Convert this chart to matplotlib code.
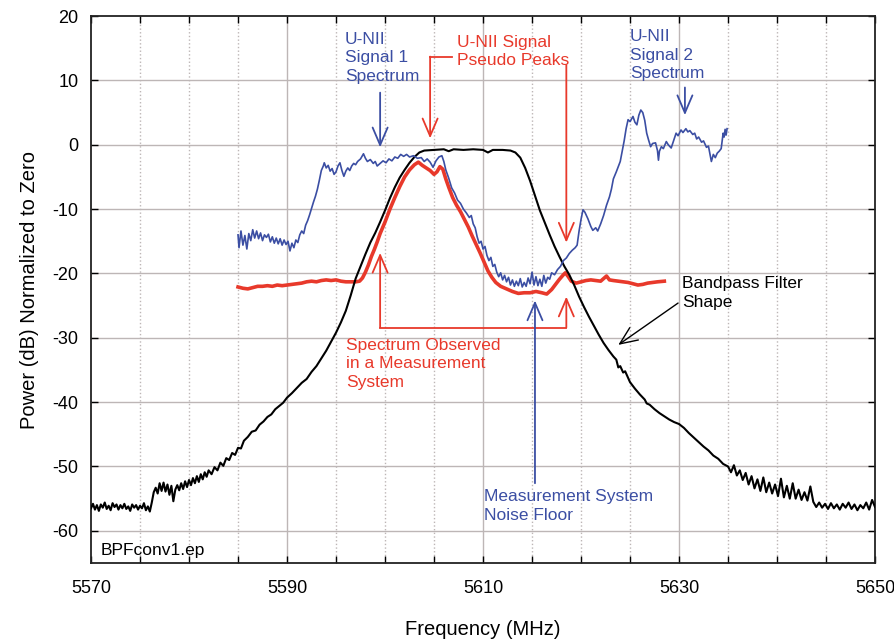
import numpy as np
import matplotlib
matplotlib.use("Agg")
import matplotlib.pyplot as plt
from matplotlib.ticker import FixedLocator, MultipleLocator

plt.rcParams['font.family'] = ['Liberation Sans', 'DejaVu Sans']
plt.rcParams['axes.unicode_minus'] = False

# Bandpass filter shape (black trace)
bpf_freq = [
    5570.0, 5570.2, 5570.4, 5570.6, 5570.8, 5571.0, 5571.2, 5571.4, 5571.6, 5571.8,
    5572.0, 5572.2, 5572.4, 5572.6, 5572.8, 5573.0, 5573.2, 5573.4, 5573.6, 5573.8,
    5574.0, 5574.2, 5574.4, 5574.6, 5574.8, 5575.0, 5575.2, 5575.4, 5575.6, 5575.8,
    5576.0, 5576.2, 5576.4, 5576.6, 5576.8, 5577.0, 5577.2, 5577.4, 5577.6, 5577.8,
    5578.0, 5578.2, 5578.4, 5578.6, 5578.8, 5579.0, 5579.2, 5579.4, 5579.6, 5579.8,
    5580.0, 5580.2, 5580.4, 5580.6, 5580.8, 5581.0, 5581.2, 5581.4, 5581.6, 5581.8,
    5582.0, 5582.3, 5582.6, 5582.9, 5583.2, 5583.5, 5583.8, 5584.1, 5584.4, 5584.7,
    5585.0, 5585.3, 5585.6, 5586.0, 5586.4, 5586.8, 5587.2, 5587.6, 5588.0, 5588.4,
    5588.8, 5589.2, 5589.6, 5590.0, 5590.5, 5591.0, 5591.5, 5592.0, 5592.5, 5593.0,
    5593.5, 5594.0, 5594.5, 5595.0, 5595.5, 5596.0, 5596.5, 5597.0, 5597.5, 5598.0,
    5598.5, 5599.0, 5599.5, 5600.0, 5600.5, 5601.0, 5601.5, 5602.0, 5602.5, 5603.0,
    5603.5, 5604.0, 5605.0, 5606.0, 5606.5, 5607.0, 5608.0, 5609.0, 5610.0, 5610.5,
    5611.0, 5612.0, 5612.8, 5613.3, 5613.8, 5614.3, 5614.8, 5615.3, 5615.8, 5616.3,
    5616.8, 5617.3, 5617.8, 5618.3, 5618.8, 5619.3, 5619.8, 5620.3, 5620.8, 5621.3,
    5621.8, 5622.3, 5622.8, 5623.3, 5623.6, 5623.8, 5624.0, 5624.3, 5624.5, 5625.0,
    5625.5, 5626.0, 5626.5, 5626.7, 5627.0, 5627.5, 5628.0, 5628.5, 5629.0, 5629.5,
    5630.0, 5630.5, 5631.0, 5631.5, 5632.0, 5632.5, 5633.0, 5633.5, 5634.0, 5634.5,
    5635.0, 5635.3, 5635.6, 5635.9, 5636.2, 5636.5, 5636.8, 5637.1, 5637.4, 5637.7,
    5638.0, 5638.3, 5638.6, 5638.9, 5639.2, 5639.5, 5639.8, 5640.1, 5640.4, 5640.7,
    5641.0, 5641.3, 5641.6, 5641.9, 5642.2, 5642.5, 5642.8, 5643.1, 5643.4, 5643.7,
    5644.0, 5644.3, 5644.6, 5644.9, 5645.2, 5645.5, 5645.8, 5646.1, 5646.4, 5646.7,
    5647.0, 5647.3, 5647.6, 5647.9, 5648.2, 5648.5, 5648.8, 5649.1, 5649.4, 5649.7,
    5650.0,
]
bpf_db = [
    -56.5, -55.8, -56.7, -56.0, -56.9, -55.9, -56.4, -55.6, -56.6, -56.1,
    -56.8, -55.7, -56.3, -55.9, -56.7, -56.0, -56.5, -55.8, -56.6, -56.2,
    -56.9, -55.9, -56.4, -56.0, -56.7, -56.1, -56.5, -55.7, -56.8, -56.2,
    -57.0, -55.6, -54.0, -53.3, -54.2, -52.6, -53.8, -52.5, -53.9, -52.8,
    -54.4, -53.0, -55.4, -53.6, -52.9, -53.7, -52.6, -53.5, -52.3, -53.2,
    -52.1, -52.9, -51.8, -52.6, -51.5, -52.4, -51.2, -52.0, -50.9, -51.6,
    -50.6, -51.2, -50.1, -50.6, -49.4, -49.9, -48.7, -49.0, -47.9, -48.2,
    -47.1, -47.2, -46.0, -45.4, -44.6, -44.4, -43.5, -43.0, -42.3, -41.9,
    -41.1, -40.6, -40.1, -39.3, -38.6, -37.8, -37.0, -36.4, -35.3, -34.4,
    -33.2, -32.0, -30.6, -29.2, -27.6, -25.8, -23.4, -20.8, -18.9, -17.0,
    -15.2, -13.7, -12.0, -10.2, -8.3, -6.6, -5.1, -3.9, -2.8, -1.9,
    -1.2, -0.9, -0.8, -0.7, -1.0, -0.7, -0.8, -0.7, -0.8, -1.2,
    -0.8, -0.8, -0.9, -1.2, -2.0, -3.6, -5.6, -7.9, -10.2, -12.1,
    -14.0, -15.8, -17.4, -18.9, -20.2, -21.8, -23.6, -25.2, -26.7, -28.1,
    -29.5, -30.8, -31.9, -32.9, -33.4, -34.6, -34.4, -35.4, -35.2, -36.9,
    -37.9, -38.8, -39.6, -40.2, -40.4, -41.1, -41.7, -42.2, -42.7, -43.1,
    -43.4, -44.0, -44.8, -45.5, -46.2, -46.9, -47.5, -48.3, -48.8, -49.6,
    -50.0, -50.9, -49.8, -51.4, -50.6, -52.1, -51.0, -52.8, -51.5, -53.4,
    -52.0, -53.8, -51.7, -54.0, -52.5, -54.2, -52.8, -54.6, -51.9, -54.8,
    -53.0, -55.0, -52.6, -55.0, -53.6, -55.2, -54.0, -55.3, -53.1, -55.5,
    -56.3, -55.6, -56.4, -55.8, -56.6, -55.7, -56.5, -55.9, -56.7, -55.8,
    -56.4, -55.6, -56.6, -55.9, -56.8, -56.0, -56.5, -55.6, -56.7, -55.2,
    -56.3,
]

# U-NII signal spectrum (blue trace)
sig_freq = [
    5585.0, 5585.1, 5585.3, 5585.5, 5585.7, 5585.9, 5586.1, 5586.3, 5586.5, 5586.7,
    5586.9, 5587.1, 5587.3, 5587.5, 5587.7, 5587.9, 5588.1, 5588.3, 5588.5, 5588.7,
    5588.9, 5589.1, 5589.3, 5589.5, 5589.7, 5589.9, 5590.1, 5590.3, 5590.5, 5590.7,
    5590.9, 5591.1, 5591.3, 5591.5, 5591.7, 5591.9, 5592.1, 5592.3, 5592.5, 5592.7,
    5592.9, 5593.1, 5593.3, 5593.5, 5593.7, 5593.8, 5594.0, 5594.2, 5594.4, 5594.6,
    5594.8, 5595.0, 5595.2, 5595.4, 5595.6, 5595.8, 5596.0, 5596.2, 5596.4, 5596.6,
    5596.8, 5597.0, 5597.2, 5597.5, 5597.8, 5598.0, 5598.2, 5598.5, 5598.8, 5599.0,
    5599.2, 5599.5, 5599.8, 5600.1, 5600.4, 5600.7, 5601.0, 5601.3, 5601.6, 5601.9,
    5602.2, 5602.5, 5602.9, 5603.3, 5603.7, 5604.0, 5604.3, 5604.6, 5604.9, 5605.2,
    5605.5, 5605.8, 5606.0, 5606.2, 5606.5, 5606.8, 5607.1, 5607.4, 5607.7, 5608.0,
    5608.3, 5608.6, 5608.8, 5609.0, 5609.2, 5609.4, 5609.6, 5609.8, 5610.0, 5610.2,
    5610.4, 5610.6, 5610.8, 5611.0, 5611.2, 5611.4, 5611.6, 5611.8, 5612.0, 5612.2,
    5612.4, 5612.6, 5612.8, 5613.0, 5613.2, 5613.4, 5613.6, 5613.8, 5614.0, 5614.2,
    5614.4, 5614.6, 5614.8, 5615.0, 5615.2, 5615.4, 5615.6, 5615.8, 5616.0, 5616.2,
    5616.4, 5616.6, 5616.8, 5617.0, 5617.3, 5617.6, 5617.9, 5618.2, 5618.5, 5618.8,
    5619.1, 5619.4, 5619.6, 5619.8, 5620.0, 5620.2, 5620.4, 5620.7, 5621.0, 5621.2,
    5621.5, 5621.7, 5622.0, 5622.3, 5622.6, 5622.9, 5623.1, 5623.3, 5623.6, 5623.8,
    5624.0, 5624.2, 5624.4, 5624.6, 5624.8, 5625.0, 5625.3, 5625.5, 5625.7, 5625.9,
    5626.1, 5626.3, 5626.5, 5626.7, 5626.9, 5627.1, 5627.3, 5627.6, 5627.8, 5627.9,
    5628.0, 5628.2, 5628.4, 5628.7, 5628.9, 5629.2, 5629.4, 5629.7, 5629.9, 5630.2,
    5630.4, 5630.7, 5630.9, 5631.1, 5631.4, 5631.6, 5631.8, 5632.0, 5632.3, 5632.5,
    5632.8, 5633.0, 5633.2, 5633.3, 5633.5, 5633.7, 5633.9, 5634.1, 5634.3, 5634.5,
    5634.6, 5634.7, 5634.8, 5634.9,
]
sig_db = [
    -14.0, -16.0, -13.4, -15.6, -14.1, -16.2, -13.8, -14.9, -13.2, -14.5,
    -13.4, -14.6, -13.7, -14.9, -14.0, -14.4, -13.9, -15.1, -14.3, -15.3,
    -14.5, -15.4, -14.6, -15.6, -14.8, -15.5, -15.0, -16.5, -15.3, -16.0,
    -14.8, -15.2, -14.0, -13.4, -13.8, -12.5, -11.8, -10.9, -9.9, -8.9,
    -8.0, -6.9, -5.5, -4.0, -3.3, -2.8, -3.6, -3.2, -4.1, -3.7,
    -4.6, -4.2, -3.3, -2.8, -4.0, -4.9, -4.1, -3.6, -4.0, -3.3,
    -2.9, -3.1, -2.6, -2.2, -1.4, -2.1, -2.6, -2.3, -2.9, -2.6,
    -3.3, -2.9, -2.5, -2.8, -2.2, -2.5, -1.9, -2.1, -1.5, -1.8,
    -1.5, -1.9, -1.7, -2.1, -2.0, -2.6, -2.2, -2.7, -3.5, -2.5,
    -1.9, -1.7, -2.6, -3.9, -5.2, -6.7, -7.5, -8.6, -9.1, -10.0,
    -10.6, -11.3, -11.0, -12.3, -12.9, -14.3, -15.3, -15.0, -16.2, -15.8,
    -17.2, -18.0, -17.5, -18.9, -18.6, -19.8, -20.5, -19.9, -21.0, -20.3,
    -21.3, -20.6, -21.8, -21.0, -22.0, -21.2, -21.9, -20.8, -22.1, -21.4,
    -22.0, -20.7, -21.6, -19.8, -21.8, -20.5, -21.9, -20.9, -22.0, -20.3,
    -21.5, -20.6, -20.9, -19.9, -20.2, -19.4, -18.9, -18.0, -17.6, -16.9,
    -16.4, -16.0, -15.6, -13.4, -11.6, -10.1, -10.5, -11.5, -12.7, -13.3,
    -12.9, -13.4, -12.3, -11.0, -9.4, -8.1, -6.9, -5.3, -4.2, -3.4,
    -2.6, -1.0, 0.6, 2.5, 3.9, 3.6, 4.4, 3.5, 3.1, 4.6,
    5.4, 5.0, 3.8, 1.8, 0.7, -0.3, 0.2, 0.3, -0.9, -2.4,
    -1.0, -0.3, -0.6, 0.5, 0.0, -0.5, 0.4, 1.8, 1.4, 2.3,
    1.9, 2.5, 2.0, 2.2, 1.6, 1.8, 0.9, 1.2, 0.4, 0.6,
    -0.4, -0.2, -1.8, -2.6, -1.5, -2.0, -1.3, -1.0, -0.6, 1.8,
    1.2, 2.4, 1.5, 2.5,
]

# Spectrum observed through the filter (red trace)
obs_freq = [
    5585.0, 5585.5, 5586.0, 5586.5, 5587.0, 5587.5, 5588.0, 5588.5, 5589.0, 5589.5,
    5590.0, 5590.5, 5591.0, 5591.5, 5592.0, 5592.5, 5593.0, 5593.5, 5594.0, 5594.5,
    5595.0, 5595.5, 5596.0, 5596.5, 5597.0, 5597.4, 5597.7, 5598.0, 5598.3, 5598.6,
    5598.9, 5599.2, 5599.5, 5600.0, 5600.5, 5601.0, 5601.5, 5602.0, 5602.5, 5603.0,
    5603.4, 5603.8, 5604.2, 5604.6, 5605.0, 5605.3, 5605.6, 5605.9, 5606.2, 5606.5,
    5606.9, 5607.3, 5607.7, 5608.1, 5608.5, 5608.9, 5609.3, 5609.7, 5610.1, 5610.5,
    5610.9, 5611.3, 5611.8, 5612.4, 5613.0, 5613.6, 5614.2, 5614.8, 5615.4, 5616.0,
    5616.5, 5617.0, 5617.4, 5617.8, 5618.2, 5618.4, 5618.7, 5619.0, 5619.5, 5620.0,
    5620.5, 5621.0, 5621.5, 5622.0, 5622.3, 5622.6, 5622.9, 5623.3, 5623.8, 5624.3,
    5624.8, 5625.3, 5625.8, 5626.3, 5626.8, 5627.3, 5627.8, 5628.5,
]
obs_db = [
    -22.1, -22.3, -22.4, -22.2, -22.0, -22.0, -21.9, -22.0, -21.8, -21.9,
    -21.8, -21.7, -21.6, -21.5, -21.3, -21.2, -21.3, -21.1, -21.0, -21.1,
    -21.0, -21.2, -21.3, -21.3, -21.3, -21.2, -20.7, -19.8, -18.7, -17.4,
    -16.3, -15.1, -13.8, -12.0, -10.0, -8.2, -6.5, -5.0, -3.9, -3.1,
    -2.7, -3.2, -3.6, -4.0, -4.6, -4.2, -3.4, -3.8, -5.3, -6.6,
    -8.2, -9.4, -10.4, -11.6, -12.8, -14.2, -15.5, -16.8, -18.2, -19.6,
    -20.6, -21.4, -22.0, -22.4, -22.8, -23.1, -23.0, -23.0, -22.8, -23.0,
    -23.2, -22.5, -21.7, -20.9, -20.2, -19.9, -20.5, -21.2, -21.5, -21.3,
    -21.1, -21.0, -21.1, -21.2, -20.8, -20.4, -21.0, -21.1, -21.2, -21.3,
    -21.4, -21.6, -21.8, -21.7, -21.5, -21.4, -21.3, -21.2,
]

freq_labels = [5570, 5590, 5610, 5630, 5650]

BLUE = '#3b4ea3'
RED = '#e8392b'
GRID = '#bdb6b6'
FS = 12.5

fig = plt.figure(figsize=(8.95, 6.43), dpi=100)
ax = fig.add_axes([0.1017, 0.1244, 0.876, 0.8506])

ax.set_xlim(5570, 5650)
ax.set_ylim(-65, 20)
ax.xaxis.set_major_locator(FixedLocator(freq_labels))
ax.xaxis.set_minor_locator(MultipleLocator(5))
ax.yaxis.set_major_locator(MultipleLocator(10))

# grid: solid at the labelled frequencies, dotted at every 5 MHz mark
for f in np.arange(5575, 5650, 5):
    ls = '-' if f in freq_labels else ':'
    ax.axvline(f, color=GRID, lw=1.0, ls=ls, zorder=0)
for d in np.arange(-60, 20, 10):
    ax.axhline(d, color=GRID, lw=1.0, zorder=0)

ax.tick_params(which='both', direction='in', top=True, right=True,
               labelsize=13, width=1.0)
ax.tick_params(which='major', length=5, pad=9)
ax.tick_params(axis='x', which='major', pad=12)
ax.tick_params(which='minor', length=5)
for s in ax.spines.values():
    s.set_linewidth(1.3)
    s.set_color('#222222')

ax.plot(bpf_freq, bpf_db, color='black', lw=1.5, zorder=3)
ax.plot(obs_freq, obs_db, color=RED, lw=2.6, zorder=2)
ax.plot(sig_freq, sig_db, color=BLUE, lw=1.2, zorder=4)

ax.set_xlabel('Frequency (MHz)', fontsize=14.5, labelpad=17)
ax.set_ylabel('Power (dB) Normalized to Zero', fontsize=14.5, labelpad=10)

arrow = dict(arrowstyle='->,head_length=0.7,head_width=0.3', lw=1.3,
             shrinkA=0, shrinkB=0, mutation_scale=18)
LS = 1.3

# U-NII signal 1 label
ax.text(5595.9, 17.6, 'U-NII\nSignal 1\nSpectrum', color=BLUE, fontsize=FS,
        va='top', ha='left', linespacing=LS)
ax.annotate('', xy=(5599.5, -0.4), xytext=(5599.5, 8.1),
            arrowprops=dict(arrow, color=BLUE))

# U-NII signal 2 label
ax.text(5625.0, 18.0, 'U-NII\nSignal 2\nSpectrum', color=BLUE, fontsize=FS,
        va='top', ha='left', linespacing=LS)
ax.annotate('', xy=(5630.6, 4.6), xytext=(5630.6, 8.9),
            arrowprops=dict(arrow, color=BLUE))

# pseudo peak callouts
ax.text(5607.3, 17.1, 'U-NII Signal\nPseudo Peaks', color=RED, fontsize=FS,
        va='top', ha='left', linespacing=LS)
ax.plot([5604.6, 5606.8], [13.7, 13.7], color=RED, lw=1.3)
ax.annotate('', xy=(5604.6, 1.0), xytext=(5604.6, 13.7),
            arrowprops=dict(arrow, color=RED))
ax.annotate('', xy=(5618.5, -15.2), xytext=(5618.5, 12.4),
            arrowprops=dict(arrow, color=RED))

# observed spectrum bracket
ax.plot([5599.5, 5618.5], [-28.4, -28.4], color=RED, lw=1.3)
ax.annotate('', xy=(5599.5, -16.8), xytext=(5599.5, -28.4),
            arrowprops=dict(arrow, color=RED))
ax.annotate('', xy=(5618.5, -23.6), xytext=(5618.5, -28.4),
            arrowprops=dict(arrow, color=RED))
ax.text(5596.0, -30.0, 'Spectrum Observed\nin a Measurement\nSystem', color=RED,
        fontsize=FS, va='top', ha='left', linespacing=LS)

# noise floor callout
ax.annotate('', xy=(5615.3, -24.2), xytext=(5615.3, -52.6),
            arrowprops=dict(arrow, color=BLUE))
ax.text(5610.1, -53.5, 'Measurement System\nNoise Floor', color=BLUE,
        fontsize=FS, va='top', ha='left', linespacing=LS)

# bandpass filter label
ax.text(5630.3, -20.4, 'Bandpass Filter\nShape', color='black', fontsize=FS,
        va='top', ha='left', linespacing=LS)
ax.annotate('', xy=(5623.8, -31.1), xytext=(5629.9, -24.6),
            arrowprops=dict(arrow, color='black', lw=1.0))

ax.text(5571.0, -63.0, 'BPFconv1.ep', color='black', fontsize=12.5,
        va='center', ha='left')

fig.savefig('out.png', dpi=100)
